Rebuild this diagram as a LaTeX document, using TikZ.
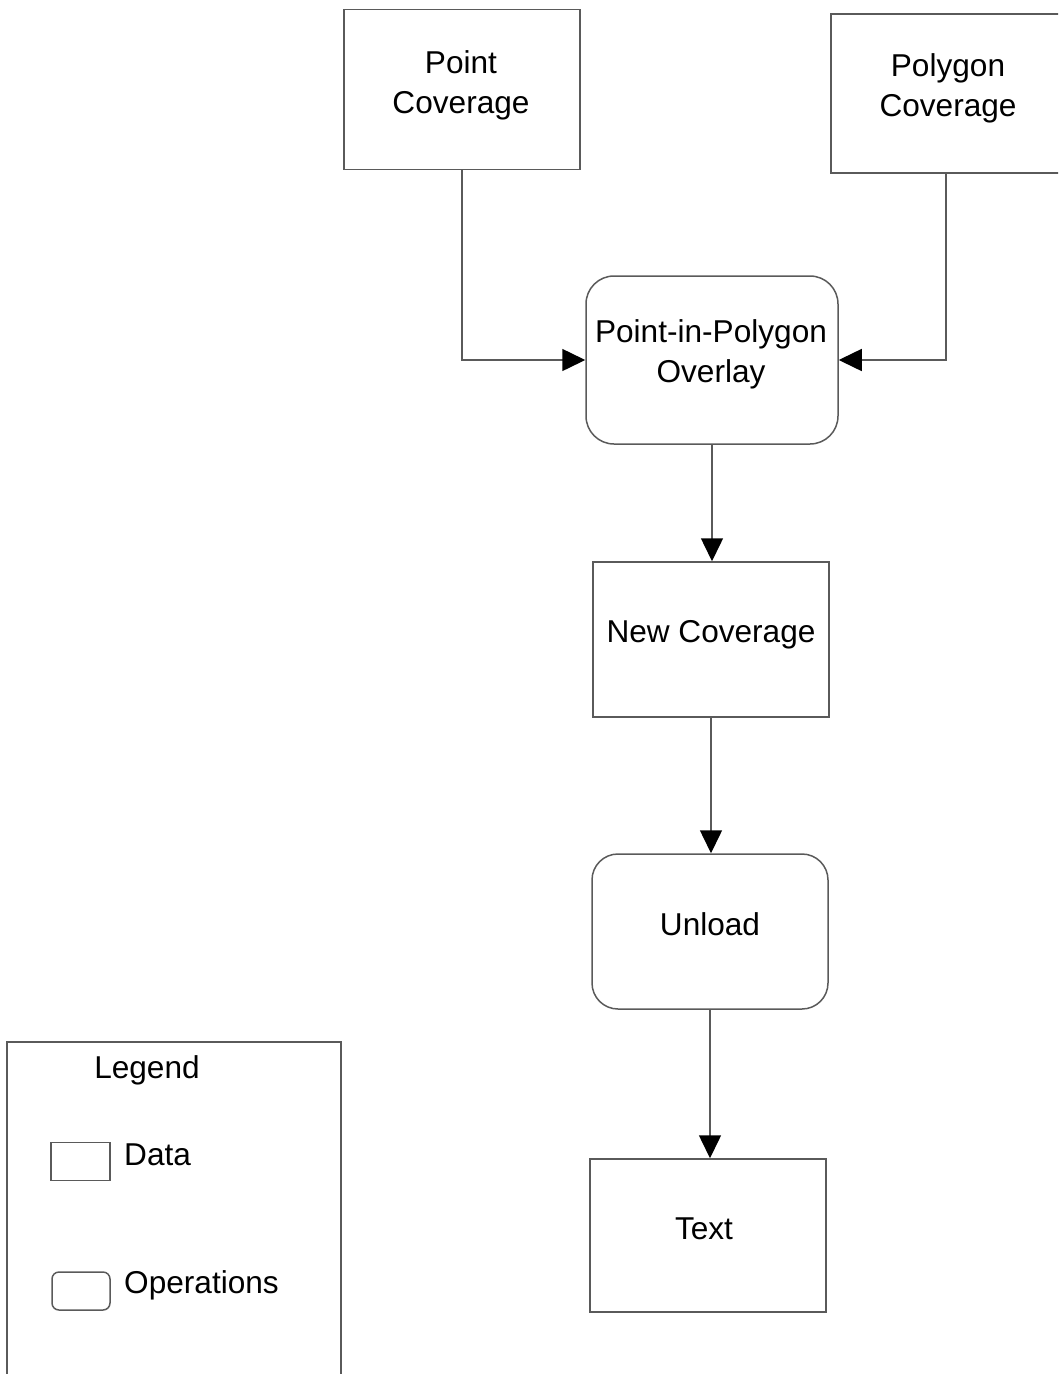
\documentclass[tikz,border=0pt]{standalone}
\usepackage{fontspec}
\setmainfont{Liberation Sans}
\usetikzlibrary{arrows.meta}
\definecolor{linegray}{HTML}{5A5A5A}
\tikzset{
  boxline/.style={draw=linegray, line width=1.5pt},
  databox/.style={boxline, rectangle, inner sep=0pt},
  opbox/.style={boxline, rectangle, rounded corners=26pt, inner sep=0pt},
  lbl/.style={font=\fontsize{31.6}{40}\selectfont, inner sep=0pt, align=center, text=black},
  conn/.style={draw=linegray, line width=1.5pt, -{Triangle[length=23pt,width=22pt,color=black]}}
}
\begin{document}
\begin{tikzpicture}[x=1pt,y=-1pt]
\useasboundingbox (0,0) rectangle (1058,1374);
\clip (0,0) rectangle (1058,1374);
% data and operation boxes
\node[databox, minimum width=236pt, minimum height=160pt] (pc) at (462,89.5) {};
\node[databox, minimum width=230pt, minimum height=159pt] (pg) at (946,93.5) {};
\node[opbox, minimum width=252pt, minimum height=168pt, rounded corners=28pt] (ov) at (712,360) {};
\node[databox, minimum width=236pt, minimum height=155pt] (nc) at (711,639.5) {};
\node[opbox, minimum width=236pt, minimum height=155pt] (ul) at (710,931.5) {};
\node[databox, minimum width=236pt, minimum height=153pt] (tx) at (708,1235.5) {};
% texts
\node[lbl] (pc-t) at (461,85.2) {Point\\Coverage};
\node[lbl] (pg-t) at (948,88.7) {Polygon\\Coverage};
\node[lbl] (ov-t) at (711,354) {Point-in-Polygon\\Overlay};
\node[lbl, anchor=base] (nc-t) at (711,642.7) {New Coverage};
\node[lbl, anchor=base] (ul-t) at (710,935) {Unload};
\node[lbl, anchor=base] (tx-t) at (704,1239) {Text};
% connectors
\draw[conn] (pc.south) |- (ov.west);
\draw[conn] (pg.south) |- (ov.east);
\draw[conn] (ov.south) -- (ov.south |- nc.north);
\draw[conn] (nc.south) -- (nc.south |- ul.north);
\draw[conn] (ul.south) -- (ul.south |- tx.north);
% legend
\node[databox, minimum width=334pt, minimum height=358pt] (lg) at (174,1221) {};
\node[lbl, anchor=base] (lg-t) at (147,1078) {Legend};
\node[databox, minimum width=59pt, minimum height=38pt] (lg-d) at (80.5,1161.5) {};
\node[opbox, rounded corners=7pt, minimum width=58pt, minimum height=38pt] (lg-o) at (81,1291) {};
\node[lbl, anchor=base west] (lg-dt) at (124,1165.5) {Data};
\node[lbl, anchor=base west] (lg-ot) at (124,1293) {Operations};
\end{tikzpicture}
\end{document}
